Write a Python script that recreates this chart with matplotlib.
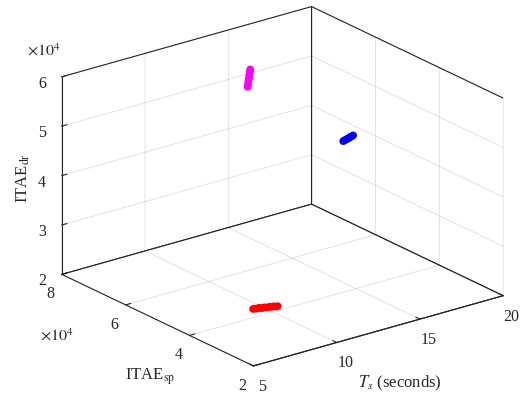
import matplotlib
matplotlib.use("Agg")
import matplotlib.pyplot as plt

plt.rcParams["font.family"] = ["Liberation Serif", "DejaVu Serif"]
plt.rcParams["mathtext.fontset"] = "stix"

# cluster data: Ts (s), ITAE_sp, ITAE_dr
red_ts = [9.10, 9.18, 9.27, 9.36, 9.45, 9.52, 9.61, 9.70, 9.78, 9.88, 9.97, 10.06, 10.15, 10.24]
red_sp = [41500, 41350, 41200, 41100, 40950, 40800, 40700, 40550, 40400, 40300, 40150, 40000, 39850, 39700]
red_dr = [21000, 21050, 21000, 21100, 21050, 21000, 21100, 21050, 21000, 21100, 21050, 21100, 21000, 21050]

blue_ts = [17.70, 17.76, 17.83, 17.90, 17.96, 18.02, 18.09, 18.16, 18.23, 18.30]
blue_sp = [58100, 58100, 58150, 58100, 58100, 58050, 58100, 58100, 58050, 58100]
blue_dr = [41700, 41750, 41800, 41900, 41950, 42000, 42100, 42150, 42250, 42300]

mag_ts = [13.93, 13.94, 13.96, 13.97, 13.99, 14.01, 14.02, 14.04, 14.05, 14.07, 14.08]
mag_sp = [68350, 68350, 68300, 68350, 68350, 68300, 68350, 68350, 68300, 68350, 68350]
mag_dr = [53100, 53450, 53800, 54150, 54500, 54850, 55200, 55550, 55900, 56200, 56500]

fig = plt.figure(figsize=(5.32, 3.99), dpi=100)
ax = fig.add_axes([0.0688, -0.083, 0.9, 1.2], projection="3d", proj_type="ortho")
ax.set_box_aspect((1.482, 1.482, 1.0))
ax.view_init(elev=21.5, azim=-127.5)

ax.scatter(red_ts, [v / 1e4 for v in red_sp], [v / 1e4 for v in red_dr],
           c="#ff0000", s=30, edgecolors="none", depthshade=False)
ax.scatter(blue_ts, [v / 1e4 for v in blue_sp], [v / 1e4 for v in blue_dr],
           c="#0000ff", s=30, edgecolors="none", depthshade=False)
ax.scatter(mag_ts, [v / 1e4 for v in mag_sp], [v / 1e4 for v in mag_dr],
           c="#ff00ff", s=30, edgecolors="none", depthshade=False)

ax.set_xlim(5, 20, view_margin=0)
ax.set_ylim(2, 8, view_margin=0)
ax.set_zlim(2, 6, view_margin=0)
ax.set_xticks([5, 10, 15, 20])
ax.set_yticks([2, 4, 6, 8])
ax.set_zticks([2, 3, 4, 5, 6])

edge = "#262626"
for axis in (ax.xaxis, ax.yaxis, ax.zaxis):
    axis.pane.set_facecolor("white")
    axis.pane.set_edgecolor(edge)
    axis.pane.set_alpha(None)
    axis.pane.set_linewidth(0.8)
    axis.line.set_color(edge)
    axis.line.set_linewidth(0.8)
    # translucent grid, so the box edges under it stay dark
    axis._axinfo["grid"]["color"] = (0.15, 0.15, 0.15, 0.15)
    axis._axinfo["grid"]["linewidth"] = 0.6
    axis._axinfo["tick"]["inward_factor"] = 0.0
    axis._axinfo["tick"]["outward_factor"] = 0.25
    axis._axinfo["tick"]["color"] = edge
ax.tick_params(axis="both", labelsize=11.5, colors="#262626", pad=0)

fig.text(0.043, 0.554, r"ITAE$_{\rm dr}$", rotation=90, fontsize=12,
         ha="center", va="center", color="#262626")
fig.text(0.282, 0.055, r"ITAE$_{\rm sp}$", fontsize=12,
         ha="center", va="center", color="#262626")
fig.text(0.752, 0.04, r"$T_s$ (seconds)", fontsize=12,
         ha="center", va="center", color="#262626")
fig.text(0.083, 0.872, r"$\times10^4$", fontsize=11.5, ha="center", va="center", color="#262626")
fig.text(0.107, 0.158, r"$\times10^4$", fontsize=11.5, ha="center", va="center", color="#262626")

fig.savefig("out.png", dpi=100)
